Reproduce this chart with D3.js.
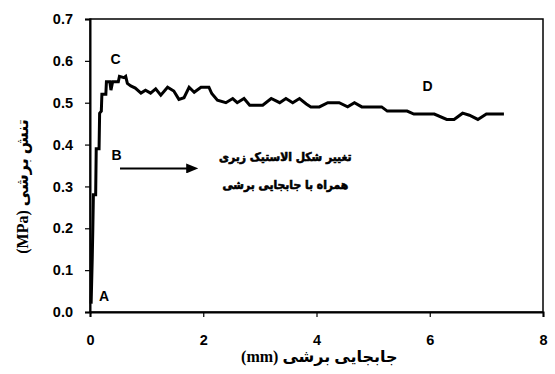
<!DOCTYPE html>
<html>
<head>
<meta charset="utf-8">
<script src="https://cdn.jsdelivr.net/npm/d3@7"></script>
<style>
  body { margin: 0; background: #fff; }
  svg text { font-family: "Liberation Sans", Arial, sans-serif; font-weight: bold; }
</style>
</head>
<body>
<svg width="555" height="374"></svg>
<script>
// displacement (mm) and shear stress (MPa)
var dispMm = [0.02, 0.04, 0.05, 0.06, 0.10, 0.11, 0.16, 0.17, 0.20, 0.21, 0.28, 0.29, 0.35, 0.37, 0.40, 0.50,
    0.52, 0.60, 0.63, 0.66, 0.72, 0.80, 0.90, 0.98, 1.07, 1.16, 1.25, 1.37, 1.48, 1.57, 1.66, 1.75, 1.84, 1.96,
    2.10, 2.15, 2.25, 2.40, 2.52, 2.60, 2.72, 2.82, 3.05, 3.20, 3.35, 3.46, 3.58, 3.70, 3.82, 3.90, 4.05, 4.20,
    4.40, 4.55, 4.67, 4.80, 5.15, 5.25, 5.60, 5.72, 6.08, 6.30, 6.43, 6.58, 6.70, 6.85, 7.00, 7.31];
var stressMPa = [0.02, 0.13, 0.20, 0.28, 0.28, 0.39, 0.39, 0.475, 0.48, 0.52, 0.52, 0.55, 0.55, 0.53, 0.55, 0.55,
    0.563, 0.56, 0.563, 0.546, 0.54, 0.535, 0.523, 0.53, 0.523, 0.533, 0.518, 0.537, 0.528, 0.508, 0.512, 0.537, 0.525, 0.537,
    0.537, 0.522, 0.506, 0.50, 0.51, 0.50, 0.51, 0.494, 0.494, 0.51, 0.50, 0.51, 0.50, 0.51, 0.497, 0.49, 0.49, 0.50,
    0.50, 0.49, 0.50, 0.49, 0.49, 0.48, 0.48, 0.473, 0.473, 0.46, 0.46, 0.475, 0.47, 0.46, 0.473, 0.473];
var xTicks = [0, 2, 4, 6, 8];
var yTicks = [0, 0.1, 0.2, 0.3, 0.4, 0.5, 0.6, 0.7];
var pointLabels = ["A", "B", "C", "D"];
var pointPos = [[0.25, 0.026], [0.47, 0.363], [0.45, 0.592], [5.96, 0.527]];

var svg = d3.select("svg"),
    margin = {top: 19, right: 12, bottom: 62, left: 90},
    width = +svg.attr("width") - margin.left - margin.right,
    height = +svg.attr("height") - margin.top - margin.bottom,
    g = svg.append("g").attr("transform", "translate(" + margin.left + "," + margin.top + ")");

var x = d3.scaleLinear().domain([0, 8]).range([0, width]);
var y = d3.scaleLinear().domain([0, 0.7]).range([height, 0]);

// frame
g.append("rect")
    .attr("width", width).attr("height", height)
    .attr("fill", "none").attr("stroke", "#000").attr("stroke-width", 1.5);

var xAxis = g.append("g")
    .attr("transform", "translate(0," + height + ")")
    .call(d3.axisBottom(x).tickValues(xTicks).tickSize(5).tickPadding(18).tickFormat(d3.format("d")));
var yAxis = g.append("g")
    .call(d3.axisLeft(y).tickValues(yTicks).tickSize(5).tickPadding(12).tickFormat(d3.format(".1f")));

[xAxis, yAxis].forEach(function(a) {
    a.select(".domain").attr("stroke-width", 2);
    a.selectAll(".tick line").attr("stroke-width", 1.2);
    a.selectAll("text").attr("font-size", 14.5).attr("fill", "#000")
        .style("font-family", "'Liberation Sans', Arial, sans-serif");
});

var line = d3.line()
    .x(function(d, i) { return x(dispMm[i]); })
    .y(function(d, i) { return y(stressMPa[i]); });

g.append("path")
    .datum(dispMm)
    .attr("d", line)
    .attr("fill", "none")
    .attr("stroke", "#000")
    .attr("stroke-width", 3)
    .attr("stroke-linejoin", "miter");

// point labels
g.selectAll(".pt")
    .data(pointLabels)
    .enter().append("text")
    .attr("class", "pt")
    .attr("x", function(d, i) { return x(pointPos[i][0]); })
    .attr("y", function(d, i) { return y(pointPos[i][1]); })
    .attr("text-anchor", "middle")
    .attr("font-size", 14)
    .text(function(d) { return d; });

// arrow
svg.append("defs").append("marker")
    .attr("id", "arr")
    .attr("viewBox", "0 0 10 10")
    .attr("refX", 1).attr("refY", 5)
    .attr("markerWidth", 6).attr("markerHeight", 5)
    .attr("markerUnits", "strokeWidth")
    .attr("orient", "auto")
    .attr("preserveAspectRatio", "none")
    .append("path").attr("d", "M0,0L10,5L0,10z").attr("fill", "#000");

g.append("line")
    .attr("x1", x(0.53)).attr("x2", x(1.72))
    .attr("y1", y(0.343)).attr("y2", y(0.343))
    .attr("stroke", "#000").attr("stroke-width", 2)
    .attr("marker-end", "url(#arr)");

var note = ["تغییر شکل الاستیک زبری", "همراه با جابجایی برشی"];
g.selectAll(".note")
    .data(note)
    .enter().append("text")
    .attr("class", "note")
    .attr("x", x(3.45))
    .attr("y", function(d, i) { return y(0.361) + i * 28; })
    .attr("text-anchor", "middle")
    .attr("direction", "rtl")
    .attr("font-size", 12)
    .attr("stroke", "#000")
    .attr("stroke-width", 0.6)
    .style("font-family", "'DejaVu Sans Condensed', 'DejaVu Sans', sans-serif")
    .text(function(d) { return d; });

// axis titles
svg.append("text")
    .attr("x", margin.left + x(4.05))
    .attr("y", 362)
    .attr("text-anchor", "middle")
    .attr("direction", "rtl")
    .attr("font-size", 16)
    .style("font-family", "'Liberation Serif', 'DejaVu Sans', serif")
    .text("جابجایی برشی (mm)");

svg.append("text")
    .attr("transform", "translate(28," + (margin.top + y(0.3)) + ") rotate(-90)")
    .attr("text-anchor", "middle")
    .attr("direction", "rtl")
    .attr("font-size", 16)
    .style("font-family", "'Liberation Serif', 'DejaVu Sans', serif")
    .text("تنش برشی (MPa)");
</script>
</body>
</html>
